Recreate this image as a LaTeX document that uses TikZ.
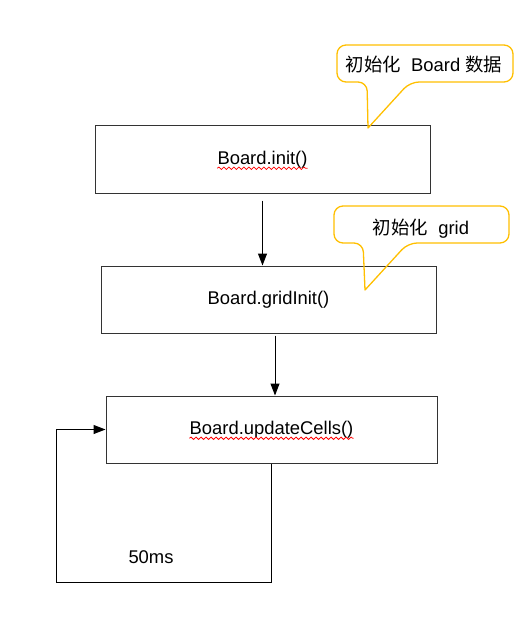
\documentclass[tikz,border=0pt]{standalone}
\usepackage{fontspec}
\setmainfont{Liberation Sans}
\newfontfamily\cjk{Noto Sans CJK SC}
\usetikzlibrary{arrows.meta,decorations.pathmorphing}
\definecolor{noteorange}{RGB}{255,191,0}

\begin{document}
\begin{tikzpicture}[x=1pt, y=-1pt, font=\fontsize{18.4}{22}\selectfont,
    box/.style={draw=black!80, line width=1pt, minimum width=335pt,
      minimum height=67pt, inner sep=0pt},
    boxtext/.style={inner sep=0pt},
    note/.style={draw=noteorange, line width=1.3pt, line join=round},
    flow/.style={-{Triangle[length=12pt,width=9pt]}, line width=1pt},
    squiggle/.style={red, line width=0.8pt, decorate,
      decoration={snake, segment length=5pt, amplitude=1.2pt}}]
\useasboundingbox (0,0) rectangle (532,631);

% the three calls
\path (262.5,159.5) node (initbox) [box] {};
\path (initbox.center) node (inittext) [boxtext] {Board.init()};
\draw [squiggle] ([yshift=-4pt]inittext.base west)
  -- ([yshift=-4pt]inittext.base east);

\path (268.5,299.5) node (gridbox) [box] {};
\path (gridbox.center) node (gridtext) [boxtext] {Board.gridInit()};

\path (271.5,429.5) node (updatebox) [box, minimum width=331pt] {};
\path (updatebox.center) node (updatetext) [boxtext] {Board.updateCells()};
\draw [squiggle] ([yshift=-4pt]updatetext.base west)
  -- ([yshift=-4pt]updatetext.base east);

% flow between calls
\draw [flow] ([yshift=-7pt]initbox.south) -- (initbox.south |- gridbox.north);
\draw [flow] ([xshift=6.5pt,yshift=-2pt]gridbox.south)
  -- ([xshift=3.5pt]updatebox.north);

% repeat loop
\coordinate (loopcorner) at (56,582);
\draw [flow] (updatebox.south) |- (loopcorner) |- (updatebox.west);
\path (151,557) node (delay) {50ms};

% notes
\draw [note] (368,128) [rounded corners=9pt] -- (410,82) -- (513,82)
  -- (513,45) -- (337,45) -- (337,82) -- (367,82) [sharp corners] -- cycle;
\path (424,65) node (boardnote) {{\cjk 初始化}\ \ Board {\cjk 数据}};

\draw [note] (365,290) [rounded corners=9pt] -- (408,243) -- (509,243)
  -- (509,206) -- (334,206) -- (334,243) -- (363,243) [sharp corners] -- cycle;
\path (421,229) node (gridnote) {{\cjk 初始化}\ \ grid};

\end{tikzpicture}
\end{document}
